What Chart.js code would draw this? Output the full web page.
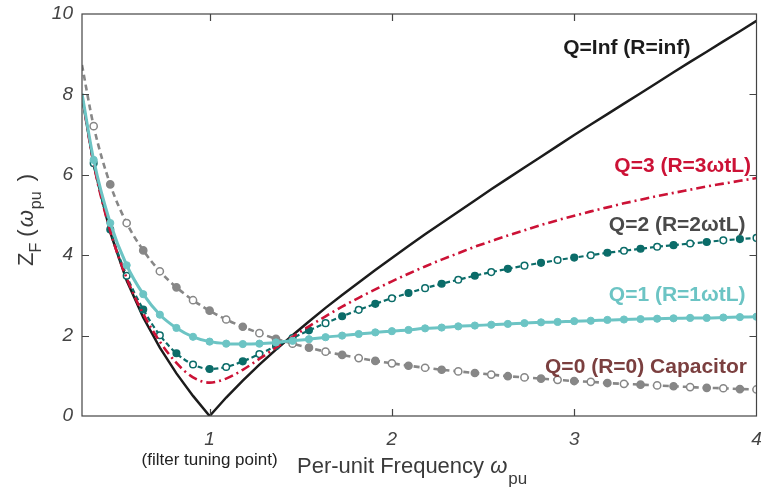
<!DOCTYPE html>
<html><head>
<meta charset="utf-8">
<title>Filter impedance vs frequency</title>
<script src="https://cdn.jsdelivr.net/npm/chart.js@4"></script>
<style>
body { margin: 0; background: #fff; }
#wrap { width: 762px; height: 488px; }
</style></head><body>
<div id="wrap"><canvas id="chart" width="762" height="488"></canvas></div>
<script>
// Per-unit frequency samples
const freq = [0.3, 0.364, 0.455, 0.545, 0.636, 0.727, 0.818, 0.909, 1.0, 1.091, 1.182, 1.273,
  1.364, 1.455, 1.545, 1.636, 1.727, 1.818, 1.909, 2.0, 2.091, 2.182, 2.273, 2.364, 2.455,
  2.545, 2.636, 2.727, 2.818, 2.909, 3.0, 3.091, 3.182, 3.273, 3.364, 3.455, 3.545, 3.636,
  3.727, 3.818, 3.909, 4.0];

// Z_F values per Q
const zQinf = [7.95, 6.25, 4.57, 3.37, 2.45, 1.70, 1.06, 0.50, 0.0, 0.46, 0.88, 1.28,
  1.65, 2.01, 2.35, 2.69, 3.01, 3.32, 3.63, 3.93, 4.23, 4.52, 4.80, 5.08, 5.36,
  5.64, 5.91, 6.18, 6.45, 6.72, 6.99, 7.25, 7.51, 7.77, 8.03, 8.29, 8.55, 8.81,
  9.06, 9.32, 9.57, 9.83];
const zQ3 = [7.96, 6.27, 4.60, 3.43, 2.54, 1.85, 1.32, 0.96, 0.83, 0.93, 1.15, 1.42,
  1.70, 1.97, 2.23, 2.48, 2.72, 2.94, 3.15, 3.35, 3.54, 3.72, 3.89, 4.05, 4.21,
  4.35, 4.49, 4.62, 4.75, 4.87, 4.98, 5.09, 5.19, 5.29, 5.38, 5.47, 5.55, 5.63,
  5.71, 5.78, 5.85, 5.92];
const zQ2 = [7.97, 6.29, 4.64, 3.49, 2.65, 2.01, 1.56, 1.28, 1.17, 1.22, 1.36, 1.54,
  1.74, 1.94, 2.13, 2.31, 2.48, 2.64, 2.79, 2.93, 3.06, 3.18, 3.29, 3.39, 3.49,
  3.58, 3.66, 3.74, 3.81, 3.88, 3.94, 4.00, 4.06, 4.11, 4.16, 4.21, 4.25, 4.29,
  4.33, 4.37, 4.40, 4.43];
const zQ1 = [8.02, 6.37, 4.80, 3.75, 3.03, 2.52, 2.19, 1.97, 1.85, 1.80, 1.79, 1.80,
  1.83, 1.87, 1.91, 1.96, 2.00, 2.04, 2.08, 2.11, 2.14, 2.18, 2.20, 2.23, 2.25,
  2.27, 2.29, 2.31, 2.33, 2.34, 2.36, 2.37, 2.39, 2.40, 2.41, 2.42, 2.43, 2.44,
  2.44, 2.45, 2.46, 2.47];
const zQ0 = [8.73, 7.21, 5.76, 4.80, 4.12, 3.60, 3.20, 2.88, 2.62, 2.40, 2.22, 2.06,
  1.92, 1.80, 1.70, 1.60, 1.52, 1.44, 1.37, 1.31, 1.25, 1.20, 1.15, 1.11, 1.07,
  1.03, 0.99, 0.96, 0.93, 0.90, 0.87, 0.85, 0.82, 0.80, 0.78, 0.76, 0.74, 0.72,
  0.70, 0.69, 0.67, 0.66];

const xTicks = [1, 2, 3, 4];
const yTicks = [0, 2, 4, 6, 8, 10];

const C_BLACK = '#1c1c1c';
const C_RED = '#cc1236';
const C_TEAL = '#0b6c69';
const C_CYAN = '#6cc4c4';
const C_GRAY = '#878787';

const pts = ys => freq.map((x, i) => ({ x, y: ys[i] }));
// no marker on the first sample, markers elsewhere
const radii = r => freq.map((_, i) => i === 0 ? 0 : r);
const altFill = c => freq.map((_, i) => i % 2 === 0 ? c : '#ffffff');

const datasets = [
  { label: 'Q=1', data: pts(zQ1), borderColor: C_CYAN, borderWidth: 3,
    pointRadius: radii(3.6), pointBackgroundColor: C_CYAN, pointBorderColor: C_CYAN, pointBorderWidth: 1 },
  { label: 'Q=3', data: pts(zQ3), borderColor: C_RED, borderWidth: 2.6,
    borderDash: [9, 4, 2, 4], pointRadius: 0 },
  { label: 'Q=2', data: pts(zQ2), borderColor: C_TEAL, borderWidth: 2.2, borderDash: [5, 3],
    pointRadius: radii(3.3), pointBackgroundColor: altFill(C_TEAL), pointBorderColor: C_TEAL, pointBorderWidth: 1.5 },
  // ideal LC: sharp notch at the tuning point, so straight segments
  { label: 'Q=Inf', data: pts(zQinf), borderColor: C_BLACK, borderWidth: 2.5, pointRadius: 0,
    cubicInterpolationMode: 'default', tension: 0 },
  { label: 'Q=0', data: pts(zQ0), borderColor: C_GRAY, borderWidth: 2.6, borderDash: [6, 4],
    pointRadius: radii(3.6), pointBackgroundColor: altFill(C_GRAY), pointBorderColor: C_GRAY, pointBorderWidth: 1.5 },
];

// curve labels, anchored in data units (left edge, vertical middle)
const curveLabels = [
  { text: 'Q=Inf (R=inf)', x: 2.94, y: 9.15, color: C_BLACK },
  { text: 'Q=3 (R=3\u03c9tL)', x: 3.22, y: 6.22, color: C_RED },
  { text: 'Q=2 (R=2\u03c9tL)', x: 3.19, y: 4.75, color: '#4a4a4a' },
  { text: 'Q=1 (R=1\u03c9tL)', x: 3.19, y: 3.01, color: C_CYAN },
  { text: 'Q=0 (R=0) Capacitor', x: 2.84, y: 1.22, color: '#7b3f3f' },
];

const FONT = 'Arial, "Liberation Sans", sans-serif';

const decor = {
  id: 'decor',
  afterDraw(chart) {
    const { ctx, chartArea: a, scales: { x, y } } = chart;
    ctx.save();
    // box + inward ticks
    ctx.strokeStyle = '#444';
    ctx.lineWidth = 1.2;
    ctx.strokeRect(a.left, a.top, a.right - a.left, a.bottom - a.top);
    ctx.beginPath();
    for (const v of [1, 2, 3]) {
      const px = Math.round(x.getPixelForValue(v)) + 0.5;
      ctx.moveTo(px, a.bottom); ctx.lineTo(px, a.bottom - 7);
      ctx.moveTo(px, a.top); ctx.lineTo(px, a.top + 7);
    }
    for (const v of [2, 4, 6, 8]) {
      const py = Math.round(y.getPixelForValue(v)) + 0.5;
      ctx.moveTo(a.left, py); ctx.lineTo(a.left + 7, py);
      ctx.moveTo(a.right, py); ctx.lineTo(a.right - 7, py);
    }
    ctx.stroke();

    // curve labels
    ctx.font = 'bold 21px ' + FONT;
    ctx.textAlign = 'left';
    ctx.textBaseline = 'middle';
    for (const l of curveLabels) {
      ctx.fillStyle = l.color;
      ctx.fillText(l.text, x.getPixelForValue(l.x), y.getPixelForValue(l.y));
    }

    // x axis title with subscript
    ctx.fillStyle = '#3a3a3a';
    ctx.textBaseline = 'alphabetic';
    ctx.font = '22px ' + FONT;
    let tx = 297;
    const base = 473;
    ctx.fillText('Per-unit Frequency ', tx, base);
    tx += ctx.measureText('Per-unit Frequency ').width;
    ctx.font = 'italic 22px ' + FONT;
    ctx.fillText('\u03c9', tx, base);
    tx += ctx.measureText('\u03c9').width + 1;
    ctx.font = '17px ' + FONT;
    ctx.fillText('pu', tx, base + 11);

    // tuning point note under tick 1
    ctx.fillStyle = '#222';
    ctx.font = '17px ' + FONT;
    ctx.textAlign = 'center';
    ctx.fillText('(filter tuning point)', x.getPixelForValue(1), 465);

    // y axis title, rotated, with subscripts
    ctx.translate(33, 266);
    ctx.rotate(-Math.PI / 2);
    ctx.textAlign = 'left';
    ctx.fillStyle = '#3a3a3a';
    let u = 0;
    ctx.font = '22px ' + FONT;
    ctx.fillText('Z', u, 0);
    u += ctx.measureText('Z').width;
    ctx.font = '16px ' + FONT;
    ctx.fillText('F', u, 8);
    u += ctx.measureText('F').width;
    ctx.font = '22px ' + FONT;
    ctx.fillText(' (', u, 0);
    u += ctx.measureText(' (').width + 2;
    ctx.font = 'italic 22px ' + FONT;
    ctx.fillText('\u03c9', u, 0);
    u += ctx.measureText('\u03c9').width + 1;
    ctx.font = '16px ' + FONT;
    ctx.fillText('pu', u, 8);
    u += ctx.measureText('pu').width + 4;
    ctx.font = '22px ' + FONT;
    ctx.fillText(' )', u, 0);
    ctx.restore();
  }
};

new Chart(document.getElementById('chart'), {
  type: 'line',
  data: { datasets },
  options: {
    responsive: false,
    animation: false,
    devicePixelRatio: 1,
    layout: { padding: { left: 0, right: 4, top: 14, bottom: 0 } },
    plugins: { legend: { display: false }, tooltip: { enabled: false } },
    elements: { line: { cubicInterpolationMode: 'monotone', fill: false } },
    scales: {
      x: {
        type: 'linear', min: 0.3, max: 4,
        grid: { display: false, drawTicks: false },
        border: { display: false },
        afterBuildTicks: s => { s.ticks = xTicks.map(v => ({ value: v })); },
        afterFit: s => { s.height = 72; s.paddingLeft = 0; s.paddingRight = 0; },
        ticks: { padding: 12, color: '#444', font: { family: FONT, size: 19, style: 'italic' }, maxRotation: 0 }
      },
      y: {
        type: 'linear', min: 0, max: 10,
        grid: { display: false, drawTicks: false },
        border: { display: false },
        afterBuildTicks: s => { s.ticks = yTicks.map(v => ({ value: v })); },
        afterFit: s => { s.width = 82; s.paddingTop = 0; s.paddingBottom = 0; },
        ticks: { padding: 9, color: '#444', font: { family: FONT, size: 19, style: 'italic' } }
      }
    }
  },
  plugins: [decor]
});
</script>
</body></html>
